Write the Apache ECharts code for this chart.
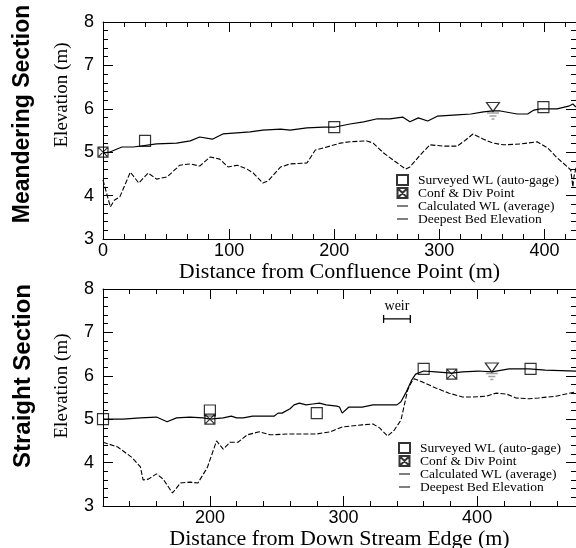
<!DOCTYPE html>
<html>
<head>
<meta charset="utf-8">
<script src="https://cdn.jsdelivr.net/npm/echarts@6/dist/echarts.min.js"></script>
<style>
  html, body { margin: 0; padding: 0; background: #fff; }
  #chart { width: 576px; height: 548px; }
</style>
</head>
<body>
<div id="chart"></div>
<script>
// Meandering section (top panel)
const topCalcDist = [-20, -14, -2, 9, 31, 50, 63, 72, 84, 94, 104, 120, 132, 149, 158, 174, 190, 201, 215, 228, 241, 253, 265, 272, 280, 289, 298, 317, 330, 342, 351, 358, 374, 384, 390, 396, 412, 423, 427, 430];
const topCalcElev = [4.98, 5.0, 5.12, 5.12, 5.19, 5.21, 5.26, 5.35, 5.30, 5.42, 5.44, 5.47, 5.51, 5.53, 5.51, 5.56, 5.58, 5.58, 5.65, 5.70, 5.77, 5.77, 5.81, 5.70, 5.79, 5.72, 5.83, 5.86, 5.88, 5.93, 5.95, 5.95, 5.88, 5.88, 5.97, 6.0, 6.0, 6.06, 6.11, 6.04];
const topBedDist = [-20, -13, -9, -4, 6, 14, 23, 31, 41, 53, 63, 72, 82, 91, 99, 108, 117, 123, 132, 137, 149, 158, 174, 182, 190, 206, 215, 231, 237, 247, 260, 268, 272, 282, 291, 304, 317, 325, 332, 342, 351, 361, 377, 393, 403, 412, 422, 425, 427, 428, 430];
const topBedElev = [4.36, 3.74, 3.90, 3.97, 4.54, 4.29, 4.52, 4.38, 4.43, 4.70, 4.73, 4.68, 4.89, 4.84, 4.66, 4.70, 4.61, 4.52, 4.29, 4.34, 4.66, 4.73, 4.75, 5.05, 5.10, 5.21, 5.24, 5.26, 5.21, 4.98, 4.75, 4.61, 4.66, 4.94, 5.17, 5.14, 5.14, 5.28, 5.42, 5.30, 5.21, 5.17, 5.19, 5.24, 5.10, 4.87, 4.66, 4.59, 4.20, 4.43, 4.64];
const topSurveyDist = [20, 200, 399];
const topSurveyElev = [5.26, 5.58, 6.04];
const topConfDist = [-20];
const topConfElev = [5.0];
const topWaterDist = [351];
const topWaterElev = [6.04];

// Straight section (bottom panel)
const botCalcDist = [120, 135, 148, 160, 168, 175, 185, 195, 200, 210, 216, 220, 225, 232, 240, 248, 251, 254, 260, 263, 267, 272, 277, 282, 287, 295, 297, 299, 304, 314, 322, 340, 343, 347, 351, 354, 360, 369, 381, 389, 401, 411, 424, 439, 451, 474];
const botCalcElev = [5.0, 5.0, 5.03, 5.05, 4.94, 5.03, 5.05, 5.03, 5.0, 5.03, 5.07, 5.03, 5.03, 5.07, 5.07, 5.07, 5.14, 5.14, 5.24, 5.33, 5.37, 5.33, 5.35, 5.37, 5.33, 5.30, 5.28, 5.14, 5.28, 5.28, 5.33, 5.33, 5.40, 5.63, 5.90, 6.04, 6.11, 6.09, 6.06, 6.09, 6.11, 6.09, 6.16, 6.16, 6.13, 6.11];
const botBedDist = [120, 131, 142, 148, 150, 154, 160, 165, 172, 178, 185, 191, 198, 205, 210, 215, 221, 228, 237, 245, 260, 280, 290, 299, 314, 322, 327, 333, 338, 343, 348, 351, 353, 359, 369, 379, 389, 396, 407, 414, 422, 429, 439, 446, 459, 474];
const botBedElev = [4.47, 4.36, 4.11, 3.90, 3.60, 3.62, 3.74, 3.62, 3.30, 3.53, 3.55, 3.53, 3.88, 4.50, 4.31, 4.47, 4.47, 4.64, 4.71, 4.64, 4.66, 4.66, 4.71, 4.82, 4.87, 4.89, 4.80, 4.61, 4.75, 4.98, 5.67, 5.86, 5.93, 5.86, 5.72, 5.60, 5.51, 5.51, 5.53, 5.60, 5.58, 5.49, 5.47, 5.49, 5.53, 5.63];
const botSurveyDist = [120, 200, 280, 360, 440];
const botSurveyElev = [5.0, 5.2, 5.14, 6.16, 6.16];
const botConfDist = [200, 381];
const botConfElev = [5.0, 6.04];
const botWaterDist = [411];
const botWaterElev = [6.19];
const weirDist = [330, 350];
const weirElev = [7.31, 7.31];

// tick labels
const topXLabelAt = [-20, 100, 200, 300, 400];
const topXLabelText = ['0', '100', '200', '300', '400'];
const botXLabelAt = [200, 300, 400];
const botXLabelText = ['200', '300', '400'];

const SURVEY = 'Surveyed WL (auto-gage)';
const CONF = 'Conf & Div Point';
const CALC = 'Calculated WL (average)';
const BED = 'Deepest Bed Elevation';

function zip(xs, ys) {
    return xs.map((x, i) => [x, ys[i]]);
}

const SANS = 'Liberation Sans';
const SERIF = 'Liberation Serif';
const black = '#000';

function xAxes(grid, min, max, labelAt, labelText, name, nameGap) {
    let major = labelAt.filter(v => v % 100 === 0 && v > min);
    let base = {
        type: 'value', gridIndex: grid, min: min, max: max, interval: 20,
        splitLine: { show: false }
    };
    return [
        Object.assign({}, base, {
            position: 'bottom',
            axisLine: { onZero: false, lineStyle: { color: black, width: 1 } },
            axisTick: { inside: true, length: 5, lineStyle: { color: black } },
            axisLabel: {
                customValues: labelAt, margin: 3, color: black,
                fontFamily: SANS, fontSize: 18,
                formatter: v => labelText[labelAt.indexOf(v)]
            },
            name: name, nameLocation: 'middle', nameGap: nameGap,
            nameTextStyle: { fontFamily: SERIF, fontSize: 22, color: black }
        }),
        Object.assign({}, base, {
            position: 'bottom',
            axisLine: { show: false, onZero: false },
            axisTick: { inside: true, length: 10, customValues: major, lineStyle: { color: black } },
            axisLabel: { show: false }
        }),
        Object.assign({}, base, {
            position: 'top',
            axisLine: { onZero: false, lineStyle: { color: black, width: 1 } },
            axisTick: { inside: true, length: 5, lineStyle: { color: black } },
            axisLabel: { show: false }
        }),
        Object.assign({}, base, {
            position: 'top',
            axisLine: { show: false, onZero: false },
            axisTick: { inside: true, length: 10, customValues: major, lineStyle: { color: black } },
            axisLabel: { show: false }
        })
    ];
}

function yAxes(grid) {
    let base = {
        type: 'value', gridIndex: grid, min: 3, max: 8, interval: 1,
        splitLine: { show: false },
        axisLine: { onZero: false, lineStyle: { color: black, width: 1 } },
        axisTick: { inside: true, length: 10, lineStyle: { color: black } },
        minorTick: { show: true, splitNumber: 5, length: 5, lineStyle: { color: black } }
    };
    return [
        Object.assign({}, base, {
            position: 'left',
            axisLabel: { margin: 9, color: black, fontFamily: SANS, fontSize: 18 }
        }),
        Object.assign({}, base, { position: 'right', axisLabel: { show: false } })
    ];
}

const confSymbol = 'path://M0,0L10,0L10,10L0,10Z M0,0L10,10 M10,0L0,10';
const waterSymbol = 'path://M0,0L12,0L6,9Z';
const waterLines = 'path://M0,0H12V1.6H0Z M2.5,3H9.5V4.6H2.5Z M4.5,6H7.5V7.6H4.5Z';
// short horizontal bar inside an 11x10 box, for the line entries of the legend
const lineIcon = 'path://M0,0H0.01V0.01H0Z M0,4.4H11V5.6H0Z M0,9.99H0.01V10H0Z';

function panelSeries(xi, yi, d) {
    return [
        {
            name: CALC, type: 'line', xAxisIndex: xi, yAxisIndex: yi,
            data: d.calc, symbol: 'none', lineStyle: { color: black, width: 1.2 },
            itemStyle: { color: black }
        },
        {
            name: BED, type: 'line', xAxisIndex: xi, yAxisIndex: yi,
            data: d.bed, symbol: 'none', lineStyle: { color: black, width: 1.1, type: [5, 2] },
            itemStyle: { color: black }
        },
        {
            name: SURVEY, type: 'scatter', xAxisIndex: xi, yAxisIndex: yi,
            data: d.survey, symbol: 'rect', symbolSize: 11,
            itemStyle: { color: 'rgba(255,255,255,0)', borderColor: black, borderWidth: 1.2 },
            z: 5
        },
        {
            name: CONF, type: 'scatter', xAxisIndex: xi, yAxisIndex: yi,
            data: d.conf, symbol: confSymbol, symbolSize: 10,
            itemStyle: { color: 'rgba(255,255,255,0)', borderColor: black, borderWidth: 1.2 },
            z: 5
        },
        {
            name: 'water level', type: 'scatter', xAxisIndex: xi, yAxisIndex: yi,
            data: d.water, symbol: waterSymbol, symbolSize: [13, 9],
            itemStyle: { color: '#fff', borderColor: black, borderWidth: 1.2 },
            z: 6
        },
        {
            name: 'water level mark', type: 'scatter', xAxisIndex: xi, yAxisIndex: yi,
            data: d.water, symbol: waterLines, symbolSize: [12, 7.6], symbolOffset: [0, 9],
            itemStyle: { color: '#888' },
            z: 6
        }
    ];
}

const series = [].concat(
    panelSeries(0, 0, {
        calc: zip(topCalcDist, topCalcElev),
        bed: zip(topBedDist, topBedElev),
        survey: zip(topSurveyDist, topSurveyElev),
        conf: zip(topConfDist, topConfElev),
        water: zip(topWaterDist, topWaterElev)
    }),
    panelSeries(4, 2, {
        calc: zip(botCalcDist, botCalcElev),
        bed: zip(botBedDist, botBedElev),
        survey: zip(botSurveyDist, botSurveyElev),
        conf: zip(botConfDist, botConfElev),
        water: zip(botWaterDist, botWaterElev)
    }),
    [{
        name: 'weir', type: 'line', xAxisIndex: 4, yAxisIndex: 2,
        data: zip(weirDist, weirElev), symbol: 'rect', symbolSize: [1.3, 8],
        lineStyle: { color: black, width: 1.2 }, itemStyle: { color: black },
        markPoint: {
            symbol: 'circle', symbolSize: 1, itemStyle: { color: 'rgba(0,0,0,0)' },
            data: [{ coord: [(weirDist[0] + weirDist[1]) / 2, 7.61] }],
            label: { show: true, position: 'inside', formatter: 'weir', color: black, fontFamily: SERIF, fontSize: 14 }
        }
    }]
);

function legend(left, top) {
    return {
        data: [
            { name: SURVEY },
            { name: CONF },
            { name: CALC, icon: lineIcon },
            { name: BED, icon: lineIcon }
        ],
        orient: 'vertical', left: left, top: top, padding: 0,
        itemWidth: 11, itemHeight: 10, itemGap: -1, selectedMode: false,
        textStyle: { fontFamily: SERIF, fontSize: 13.5, color: black, lineHeight: 12, padding: [0, 0, 0, 5] }
    };
}

function sideText(x, y, text, font) {
    return {
        type: 'text', x: x, y: y, rotation: Math.PI / 2,
        style: { text: text, font: font, fill: black, textAlign: 'center', textVerticalAlign: 'middle' }
    };
}

let chart = echarts.init(document.getElementById('chart'), null, { renderer: 'canvas' });

let option = {
    animation: false,
    backgroundColor: '#fff',
    grid: [
        { left: 103, top: 22, right: 0, height: 217, outerBoundsMode: 'none' },
        { left: 103, top: 289, right: 0, height: 217, outerBoundsMode: 'none' }
    ],
    xAxis: [].concat(
        xAxes(0, -20, 430, topXLabelAt, topXLabelText, 'Distance from Confluence Point (m)', 22),
        xAxes(1, 120, 474, botXLabelAt, botXLabelText, 'Distance from Down Stream Edge (m)', 21)
    ),
    yAxis: [].concat(yAxes(0), yAxes(1)),
    legend: [legend(396, 173), legend(398, 441)],
    graphic: [
        sideText(23, 114, 'Meandering Section', 'bold 23px "Liberation Sans"'),
        sideText(23, 376, 'Straight Section', 'bold 24px "Liberation Sans"'),
        sideText(62, 95, 'Elevation (m)', '19px "Liberation Serif"'),
        sideText(62, 386, 'Elevation (m)', '19px "Liberation Serif"')
    ],
    series: series
};

chart.setOption(option);
</script>
</body>
</html>
